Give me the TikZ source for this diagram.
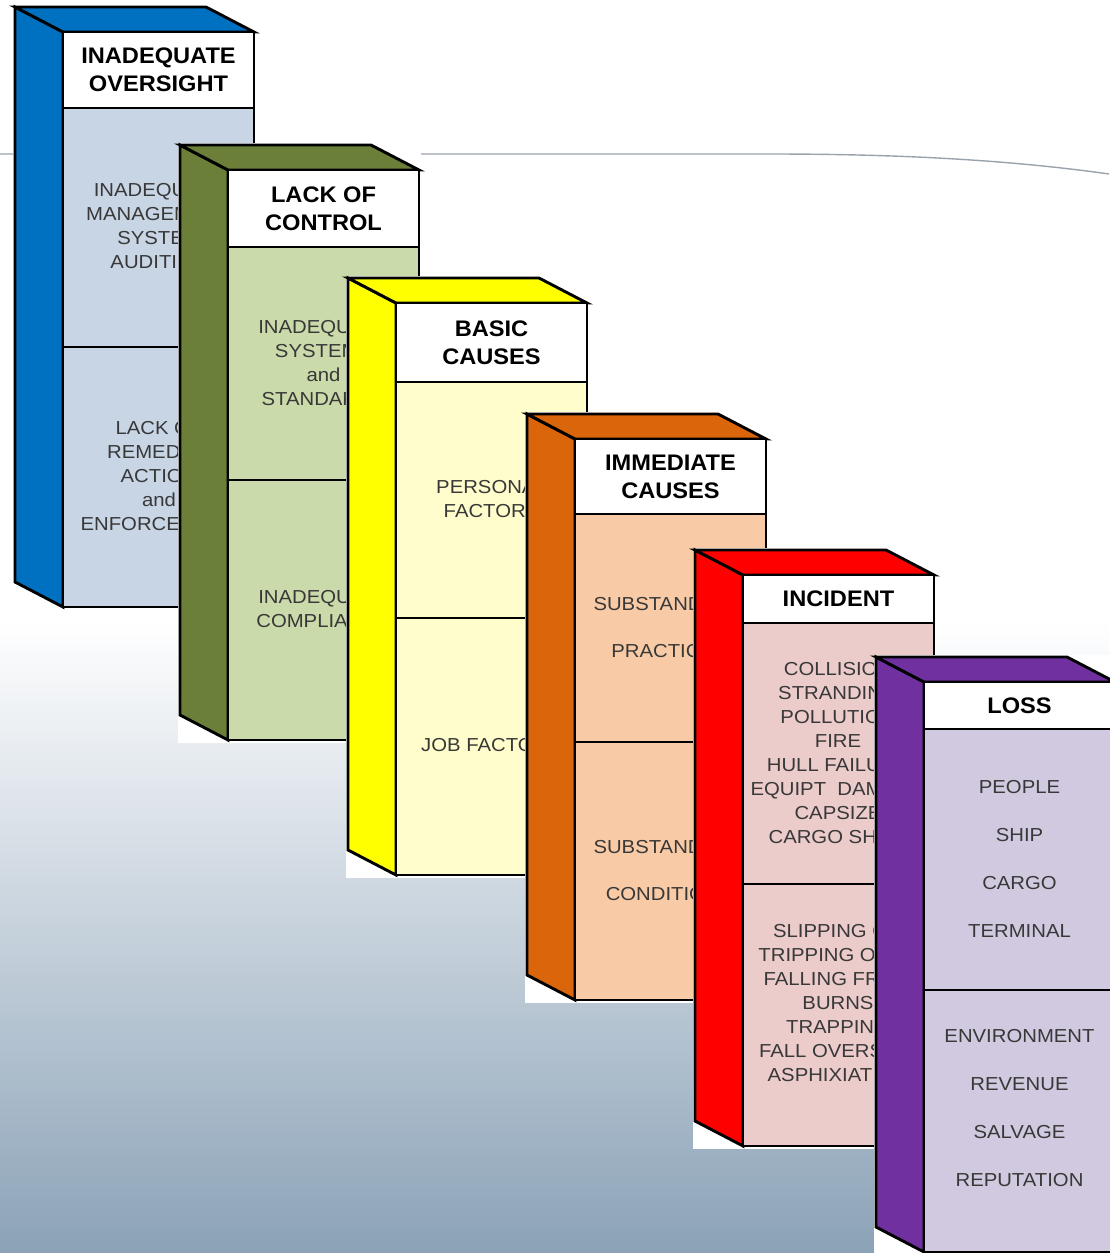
\documentclass[tikz,border=0pt]{standalone}
\usepackage{fontspec}
\setmainfont{Liberation Sans}
\newfontfamily\bodyfam[FakeStretch=1.08]{Liberation Sans}
\newfontfamily\headfam[FakeStretch=1.05]{Liberation Sans}
\definecolor{blueside}{HTML}{0070C0}
\definecolor{bluebody}{HTML}{C8D5E5}
\definecolor{greenside}{HTML}{6B7F38}
\definecolor{greenbody}{HTML}{CBDAAA}
\definecolor{yellowside}{HTML}{FFFF00}
\definecolor{yellowbody}{HTML}{FFFDCB}
\definecolor{orangeside}{HTML}{DA650B}
\definecolor{orangebody}{HTML}{F8CBA6}
\definecolor{redside}{HTML}{FF0000}
\definecolor{redbody}{HTML}{ECCBCB}
\definecolor{purpleside}{HTML}{7030A0}
\definecolor{purplebody}{HTML}{D1C9DF}
\definecolor{textgray}{HTML}{383838}
\definecolor{bglow}{HTML}{8BA2B7}
\definecolor{bgmid}{HTML}{D2D9E1}
\definecolor{rulegray}{HTML}{9AA3AC}
\tikzset{
  edge/.style={draw=black, line width=2.9pt, line join=miter},
  bodytext/.style={font=\bodyfam\fontsize{18.8}{24}\selectfont, text=textgray, align=center, inner sep=0pt},
  headtext/.style={font=\headfam\fontsize{22.5}{28}\selectfont\bfseries, text=black, align=center, inner sep=0pt}
}
% #1 front-left x, #2 front top y, #3 header bottom y, #4 divider y, #5 bottom y,
% #6 side colour, #7 body colour, #8 header text, #9 node name
\newcommand\cubeblock[9]{%
  \fill[white] ({#1-50},{#2-27}) rectangle ({#1+193},{#5+3});
  \filldraw[edge, fill=#6] (#1,#2) -- ({#1-48},{#2-25}) -- ({#1-48},{#5-25}) -- (#1,#5) -- cycle;
  \filldraw[edge, fill=#6] (#1,#2) -- ({#1-48},{#2-25}) -- ({#1+143},{#2-25}) -- ({#1+191},#2) -- cycle;
  \filldraw[edge, fill=white] (#1,#2) rectangle ({#1+191},#3);
  \filldraw[edge, fill=#7] (#1,#3) rectangle ({#1+191},#5);
  \draw[edge] (#1,#4) -- ({#1+191},#4);
  \node[headtext] (#9) at ({#1+95.5},{(#2+#3)/2}) {#8};
}
\begin{document}
\begin{tikzpicture}[x=1pt,y=-1pt]
\useasboundingbox (0,0) rectangle (1109,1253);
\fill[white] (0,0) rectangle (1109,1253);
\shade[top color=white, middle color=bgmid, bottom color=bglow] (0,620) rectangle (1109,1253);
\draw[rulegray, line width=1.4pt] (0,154) -- (770,154) .. controls (900,154) and (1010,160) .. (1109,174);

% 1 blue
\cubeblock{63}{32}{108}{347}{607}{blueside}{bluebody}{INADEQUATE\\OVERSIGHT}{hOversight}
\node[bodytext] (tAudit) at (159,226) {INADEQUATE\\MANAGEMENT\\SYSTEM\\AUDITING};
\node[bodytext] (tRemedial) at (159,476) {LACK OF\\REMEDIAL\\ACTION\\and\\ENFORCEMENT};

% 2 green
\cubeblock{228}{170}{247}{480}{740}{greenside}{greenbody}{LACK OF\\CONTROL}{hControl}
\node[bodytext] (tStandards) at (323.5,363) {INADEQUATE\\SYSTEMS\\and\\STANDARDS};
\node[bodytext] (tCompliance) at (323.5,609) {INADEQUATE\\COMPLIANCE};

% 3 yellow
\cubeblock{396}{303}{382}{618}{875}{yellowside}{yellowbody}{BASIC\\CAUSES}{hBasic}
\node[bodytext] (tPersonal) at (491.5,499) {PERSONAL\\FACTORS};
\node[bodytext] (tJob) at (491.5,745) {JOB FACTORS};

% 4 orange
\cubeblock{575}{439}{514}{742}{1000}{orangeside}{orangebody}{IMMEDIATE\\CAUSES}{hImmediate}
\node[bodytext] (tPractices) at (669.5,627.5) {SUBSTANDARD\\[23pt]PRACTICES};
\node[bodytext] (tConditions) at (669.5,870.5) {SUBSTANDARD\\[23pt]CONDITIONS};

% 5 red
\cubeblock{743}{575}{623}{884}{1146}{redside}{redbody}{INCIDENT}{hIncident}
\node[bodytext] (tEvents) at (838,753) {COLLISION\\STRANDING\\POLLUTION\\FIRE\\HULL FAILURE\\EQUIPT\ \ DAMAGE\\CAPSIZE\\CARGO SHIFT};
\node[bodytext] (tInjuries) at (838,1003) {SLIPPING ON\\TRIPPING OVER\\FALLING FROM\\BURNS\\TRAPPING\\FALL OVERSIDE\\ASPHIXIATION};

% 6 purple
\cubeblock{924}{682}{729}{990}{1252}{purpleside}{purplebody}{LOSS}{hLoss}
\node[bodytext] (tAssets) at (1019.5,858.5) {PEOPLE\\[24pt]SHIP\\[24pt]CARGO\\[24pt]TERMINAL};
\node[bodytext] (tOther) at (1019.5,1108) {ENVIRONMENT\\[24pt]REVENUE\\[24pt]SALVAGE\\[24pt]REPUTATION};
\end{tikzpicture}
\end{document}
